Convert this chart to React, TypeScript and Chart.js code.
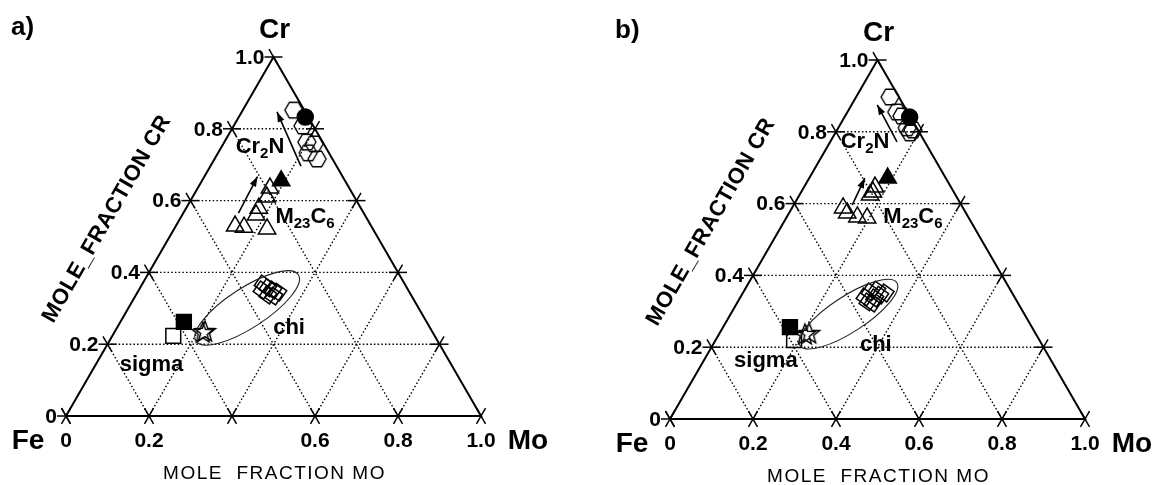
import React, { useEffect, useRef } from "react";
import { Chart, registerables } from "chart.js";

Chart.register(...registerables);

type Pt = [number, number]; // [mole fraction Mo, mole fraction Cr]

// ---------- axes / labels ----------
const GRID_LEVELS = [0.2, 0.4, 0.6, 0.8];
const TICK_VALUES = [0, 0.2, 0.4, 0.6, 0.8, 1.0];
const CR_TICK_LABELS = ["0", "0.2", "0.4", "0.6", "0.8", "1.0"];
const MO_TICK_LABELS_A = ["0", "0.2", "", "0.6", "0.8", "1.0"];
const MO_TICK_LABELS_B = ["0", "0.2", "0.4", "0.6", "0.8", "1.0"];
const TRIANGLE_CORNERS: Pt[] = [[0, 0], [1, 0], [0, 1], [0, 0]];
const CORNER_NAMES = ["Fe", "Mo", "Cr"];
const CR_AXIS_TITLE = "MOLE_FRACTION CR";
const MO_AXIS_TITLE = "MOLE  FRACTION MO";
const PHASE_LABELS = ["Cr{2}N", "M{23}C{6}", "chi", "sigma"];

// ---------- panel a data [Mo, Cr] ----------
const A_CR2N_OPEN: Pt[] = [[0.123, 0.852], [0.167, 0.808], [0.199, 0.763], [0.219, 0.758], [0.217, 0.733], [0.247, 0.716]];
const A_CR2N_FILLED: Pt[] = [[0.160, 0.833]];
const A_M23C6_OPEN: Pt[] = [[0.143, 0.529], [0.166, 0.526], [0.224, 0.521], [0.178, 0.560], [0.175, 0.579], [0.179, 0.610], [0.174, 0.635]];
const A_M23C6_FILLED: Pt[] = [[0.191, 0.655]];
const A_CHI_OPEN: Pt[] = [[0.291, 0.368], [0.308, 0.357], [0.323, 0.351], [0.338, 0.345], [0.297, 0.351], [0.318, 0.337], [0.334, 0.334]];
const A_CHI_STAR: Pt[] = [[0.214, 0.231], [0.218, 0.234]];
const A_SIGMA_OPEN: Pt[] = [[0.147, 0.223]];
const A_SIGMA_FILLED: Pt[] = [[0.153, 0.262]];
const A_ARROW_CR2N: Pt[] = [[0.218, 0.696], [0.085, 0.847]];
const A_ARROW_M23C6: Pt[] = [[0.133, 0.565], [0.128, 0.667]];
const A_CHI_ELLIPSE = { center: [0.286, 0.301] as Pt, semiMajor: 0.147, semiMinor: 0.048, angleDeg: 33 };
const A_LABEL_POS: Pt[] = [[0.093, 0.749], [0.299, 0.554], [0.415, 0.245], [0.135, 0.142]];

// ---------- panel b data [Mo, Cr] ----------
const B_CR2N_OPEN: Pt[] = [[0.082, 0.897], [0.119, 0.855], [0.137, 0.844], [0.166, 0.811], [0.180, 0.797], [0.183, 0.805]];
const B_CR2N_FILLED: Pt[] = [[0.157, 0.841]];
const B_M23C6_OPEN: Pt[] = [[0.171, 0.646], [0.173, 0.632], [0.170, 0.624], [0.123, 0.588], [0.140, 0.574], [0.170, 0.563], [0.195, 0.560]];
const B_M23C6_FILLED: Pt[] = [[0.189, 0.671]];
const B_CHI_OPEN: Pt[] = [[0.300, 0.340], [0.305, 0.354], [0.319, 0.359], [0.325, 0.337], [0.333, 0.345], [0.314, 0.326], [0.343, 0.351], [0.327, 0.323]];
const B_CHI_STAR: Pt[] = [[0.217, 0.237], [0.208, 0.234]];
const B_SIGMA_OPEN: Pt[] = [[0.189, 0.220]];
const B_SIGMA_FILLED: Pt[] = [[0.161, 0.256]];
const B_ARROW_CR2N: Pt[] = [[0.161, 0.772], [0.062, 0.875]];
const B_ARROW_M23C6: Pt[] = [[0.141, 0.596], [0.134, 0.671]];
const B_CHI_ELLIPSE = { center: [0.284, 0.292] as Pt, semiMajor: 0.139, semiMinor: 0.043, angleDeg: 33 };
const B_LABEL_POS: Pt[] = [[0.084, 0.772], [0.304, 0.563], [0.393, 0.206], [0.150, 0.162]];

const FONT = '"Liberation Sans", Arial, Helvetica, sans-serif';

const PANELS = [
  {
    letter: "a)", left: 0, moLabels: MO_TICK_LABELS_A,
    cr2nOpen: A_CR2N_OPEN, cr2nFilled: A_CR2N_FILLED, m23Open: A_M23C6_OPEN, m23Filled: A_M23C6_FILLED,
    chiOpen: A_CHI_OPEN, chiStar: A_CHI_STAR, sigmaOpen: A_SIGMA_OPEN, sigmaFilled: A_SIGMA_FILLED,
    arrows: [A_ARROW_CR2N, A_ARROW_M23C6], ellipse: A_CHI_ELLIPSE, labelPos: A_LABEL_POS,
    padding: { left: 66, right: 96, top: 57, bottom: 69 },
  },
  {
    letter: "b)", left: 577, moLabels: MO_TICK_LABELS_B,
    cr2nOpen: B_CR2N_OPEN, cr2nFilled: B_CR2N_FILLED, m23Open: B_M23C6_OPEN, m23Filled: B_M23C6_FILLED,
    chiOpen: B_CHI_OPEN, chiStar: B_CHI_STAR, sigmaOpen: B_SIGMA_OPEN, sigmaFilled: B_SIGMA_FILLED,
    arrows: [B_ARROW_CR2N, B_ARROW_M23C6], ellipse: B_CHI_ELLIPSE, labelPos: B_LABEL_POS,
    padding: { left: 93, right: 69, top: 60, bottom: 66 },
  },
];

const toXY = (p: Pt) => ({ x: p[0] + p[1] / 2, y: p[1] });

function makeHexagon(r: number, lw: number) {
  const size = 2 * Math.ceil(r + lw + 1);
  const c = document.createElement("canvas");
  c.width = size; c.height = size;
  const g = c.getContext("2d")!;
  g.translate(size / 2, size / 2);
  g.beginPath();
  for (let k = 0; k < 6; k++) {
    const a = (Math.PI / 3) * k;
    const px = r * Math.cos(a), py = r * Math.sin(a);
    if (k === 0) g.moveTo(px, py); else g.lineTo(px, py);
  }
  g.closePath();
  g.lineWidth = lw; g.strokeStyle = "#000"; g.stroke();
  return c;
}

function makeStar(ro: number, ri: number, lw: number) {
  const size = 2 * Math.ceil(ro + lw + 1);
  const c = document.createElement("canvas");
  c.width = size; c.height = size;
  const g = c.getContext("2d")!;
  g.translate(size / 2, size / 2);
  g.beginPath();
  for (let k = 0; k < 10; k++) {
    const a = -Math.PI / 2 + (k * Math.PI) / 5;
    const r = k % 2 ? ri : ro;
    const px = r * Math.cos(a), py = r * Math.sin(a);
    if (k === 0) g.moveTo(px, py); else g.lineTo(px, py);
  }
  g.closePath();
  g.lineWidth = lw; g.strokeStyle = "#000"; g.stroke();
  return c;
}

function markerSet(points: Pt[], style: any, radius: number, filled: boolean, rotation = 0) {
  return {
    type: "scatter", data: points.map(toXY), showLine: false, clip: false, order: 0,
    pointStyle: style, pointRadius: radius, pointRotation: rotation,
    pointBorderColor: "#000", pointBackgroundColor: filled ? "#000" : "rgba(0,0,0,0)", pointBorderWidth: 1.5,
  };
}

function lineSet(points: Pt[], width: number, dash: number[], order: number, extra: any = {}) {
  return {
    type: "scatter", data: points.map(toXY), showLine: true, clip: false, order,
    borderColor: "#000", borderWidth: width, borderDash: dash, pointRadius: 0, fill: false, tension: 0, ...extra,
  };
}

function drawRich(ctx: CanvasRenderingContext2D, text: string, cx: number, cy: number, size: number) {
  const parts: { t: string; sub: boolean }[] = [];
  const re = /\{([^}]*)\}|([^{}]+)/g;
  let m: RegExpExecArray | null;
  while ((m = re.exec(text))) parts.push(m[1] !== undefined ? { t: m[1], sub: true } : { t: m[2], sub: false });
  const main = `bold ${size}px ${FONT}`;
  const sub = `bold ${Math.round(size * 0.68)}px ${FONT}`;
  let total = 0;
  for (const p of parts) { ctx.font = p.sub ? sub : main; total += ctx.measureText(p.t).width; }
  let x = cx - total / 2;
  ctx.textAlign = "left"; ctx.textBaseline = "middle";
  for (const p of parts) {
    ctx.font = p.sub ? sub : main;
    ctx.fillText(p.t, x, p.sub ? cy + size * 0.3 : cy);
    x += ctx.measureText(p.t).width;
  }
}

function makeDecorPlugin(cfg: any) {
  return {
    id: "ternaryDecor",
    afterDatasetsDraw(chart: any) {
      const ctx: CanvasRenderingContext2D = chart.ctx;
      const xs = chart.scales.x, ys = chart.scales.y;
      const P = (mo: number, cr: number) => [xs.getPixelForValue(mo + cr / 2), ys.getPixelForValue(cr)];
      const unit = (a: number[], b: number[]) => { const dx = b[0] - a[0], dy = b[1] - a[1]; const l = Math.hypot(dx, dy); return [dx / l, dy / l]; };
      const fe = P(0, 0), mo = P(1, 0), cr = P(0, 1);
      const dirH = [1, 0];
      const dirLeft = unit(fe, cr);
      const dirRight = unit(mo, cr);
      const L = 9;
      ctx.save();
      ctx.strokeStyle = "#000"; ctx.lineWidth = 1.5; ctx.setLineDash([]);
      const seg = (p: number[], d: number[]) => {
        ctx.beginPath(); ctx.moveTo(p[0] - d[0] * L, p[1] - d[1] * L); ctx.lineTo(p[0] + d[0] * L, p[1] + d[1] * L); ctx.stroke();
      };
      TICK_VALUES.forEach((v) => {
        const l = P(0, v); seg(l, dirH); seg(l, dirRight);
        const b = P(v, 0); seg(b, dirLeft); seg(b, dirRight);
        if (v > 0 && v < 1) { const r = P(1 - v, v); seg(r, dirH); seg(r, dirLeft); }
      });

      // ellipse around chi
      const e = cfg.ellipse;
      const c = P(e.center[0], e.center[1]);
      const pxPerUnit = xs.getPixelForValue(1) - xs.getPixelForValue(0);
      ctx.lineWidth = 1.1; ctx.strokeStyle = "#222";
      ctx.beginPath();
      ctx.ellipse(c[0], c[1], e.semiMajor * pxPerUnit, e.semiMinor * pxPerUnit, (-e.angleDeg * Math.PI) / 180, 0, Math.PI * 2);
      ctx.stroke();

      // arrowheads
      chart.data.datasets.forEach((ds: any, i: number) => {
        if (!ds.isArrow) return;
        const meta = chart.getDatasetMeta(i);
        const a = meta.data[0], b = meta.data[1];
        const ang = Math.atan2(b.y - a.y, b.x - a.x);
        const hl = 10, hw = 3.5;
        ctx.fillStyle = "#000";
        ctx.beginPath();
        ctx.moveTo(b.x, b.y);
        ctx.lineTo(b.x - hl * Math.cos(ang) + hw * Math.sin(ang), b.y - hl * Math.sin(ang) - hw * Math.cos(ang));
        ctx.lineTo(b.x - hl * Math.cos(ang) - hw * Math.sin(ang), b.y - hl * Math.sin(ang) + hw * Math.cos(ang));
        ctx.closePath(); ctx.fill();
      });

      ctx.fillStyle = "#000";
      // Cr tick labels
      ctx.font = `bold 21px ${FONT}`;
      ctx.textAlign = "right"; ctx.textBaseline = "middle";
      TICK_VALUES.forEach((v, i) => { const p = P(0, v); ctx.fillText(CR_TICK_LABELS[i], p[0] - 9, p[1] + 1); });
      // Mo tick labels
      ctx.textAlign = "center";
      TICK_VALUES.forEach((v, i) => { const p = P(v, 0); if (cfg.moLabels[i]) ctx.fillText(cfg.moLabels[i], p[0], p[1] + 25); });

      // corner names
      ctx.font = `bold 28px ${FONT}`;
      ctx.textAlign = "center";
      ctx.fillText(CORNER_NAMES[0], fe[0] - 38, fe[1] + 25);
      ctx.fillText(CORNER_NAMES[1], mo[0] + 47, mo[1] + 25);
      ctx.fillText(CORNER_NAMES[2], cr[0] + 1, cr[1] - 27);
      // panel letter
      ctx.font = `bold 26px ${FONT}`;
      ctx.textAlign = "left";
      ctx.fillText(cfg.letter, fe[0] - 55, fe[1] - 388);

      // phase labels
      PHASE_LABELS.forEach((t, i) => { const p = P(cfg.labelPos[i][0], cfg.labelPos[i][1]); drawRich(ctx, t, p[0], p[1], 22); });

      // bottom title
      (ctx as any).letterSpacing = "1.5px";
      ctx.font = `19px ${FONT}`;
      ctx.textAlign = "center";
      ctx.fillText(MO_AXIS_TITLE, (fe[0] + mo[0]) / 2 + 1, fe[1] + 58);

      // left title rotated
      (ctx as any).letterSpacing = "0.5px";
      ctx.font = `bold 22px ${FONT}`;
      ctx.translate(fe[0] + 41, fe[1] - 197);
      ctx.rotate(Math.atan2(dirLeft[1], dirLeft[0]));
      ctx.fillText(CR_AXIS_TITLE, 0, 0);
      (ctx as any).letterSpacing = "0px";
      ctx.restore();
    },
  };
}

function buildConfig(cfg: any) {
  const hex = makeHexagon(9, 1.4);
  const star = makeStar(11, 4.6, 1.4);
  const grid: any[] = [];
  GRID_LEVELS.forEach((v) => {
    grid.push(lineSet([[0, v], [1 - v, v]], 1.4, [1.5, 2.2], 10));
    grid.push(lineSet([[v, 0], [v, 1 - v]], 1.4, [1.5, 2.2], 10));
    grid.push(lineSet([[1 - v, 0], [0, 1 - v]], 1.4, [1.5, 2.2], 10));
  });
  const datasets: any[] = [
    markerSet(cfg.cr2nOpen, hex, 9, false),
    markerSet(cfg.cr2nFilled, "circle", 8, true),
    markerSet(cfg.m23Open, "triangle", 10, false),
    markerSet(cfg.m23Filled, "triangle", 10, true),
    markerSet(cfg.chiOpen, "rect", 9, false, 35),
    markerSet(cfg.chiStar, star, 11, false),
    markerSet(cfg.sigmaOpen, "rect", 10.5, false),
    markerSet(cfg.sigmaFilled, "rect", 10.5, true),
    ...cfg.arrows.map((a: Pt[]) => lineSet(a, 1.6, [], 2, { isArrow: true })),
    lineSet(TRIANGLE_CORNERS, 2, [], 5),
    ...grid,
  ];
  return {
    type: "scatter",
    data: { datasets },
    options: {
      animation: false,
      responsive: false,
      devicePixelRatio: 1,
      events: [],
      layout: { padding: cfg.padding },
      scales: {
        x: { type: "linear", min: 0, max: 1, display: false },
        y: { type: "linear", min: 0, max: 1, display: false },
      },
      plugins: { legend: { display: false }, tooltip: { enabled: false } },
    },
    plugins: [makeDecorPlugin(cfg)],
  } as any;
}

function Panel({ cfg }: { cfg: any }) {
  const ref = useRef<HTMLCanvasElement>(null);
  useEffect(() => {
    const chart = new Chart(ref.current!, buildConfig(cfg));
    return () => chart.destroy();
  }, [cfg]);
  return <canvas ref={ref} width={577} height={485} style={{ position: "absolute", left: cfg.left, top: 0, width: 577, height: 485 }} />;
}

export default function App() {
  return (
    <div style={{ position: "fixed", left: 0, top: 0, width: 1154, height: 485, background: "#fff", overflow: "hidden" }}>
      {PANELS.map((p) => <Panel key={p.letter} cfg={p} />)}
    </div>
  );
}
